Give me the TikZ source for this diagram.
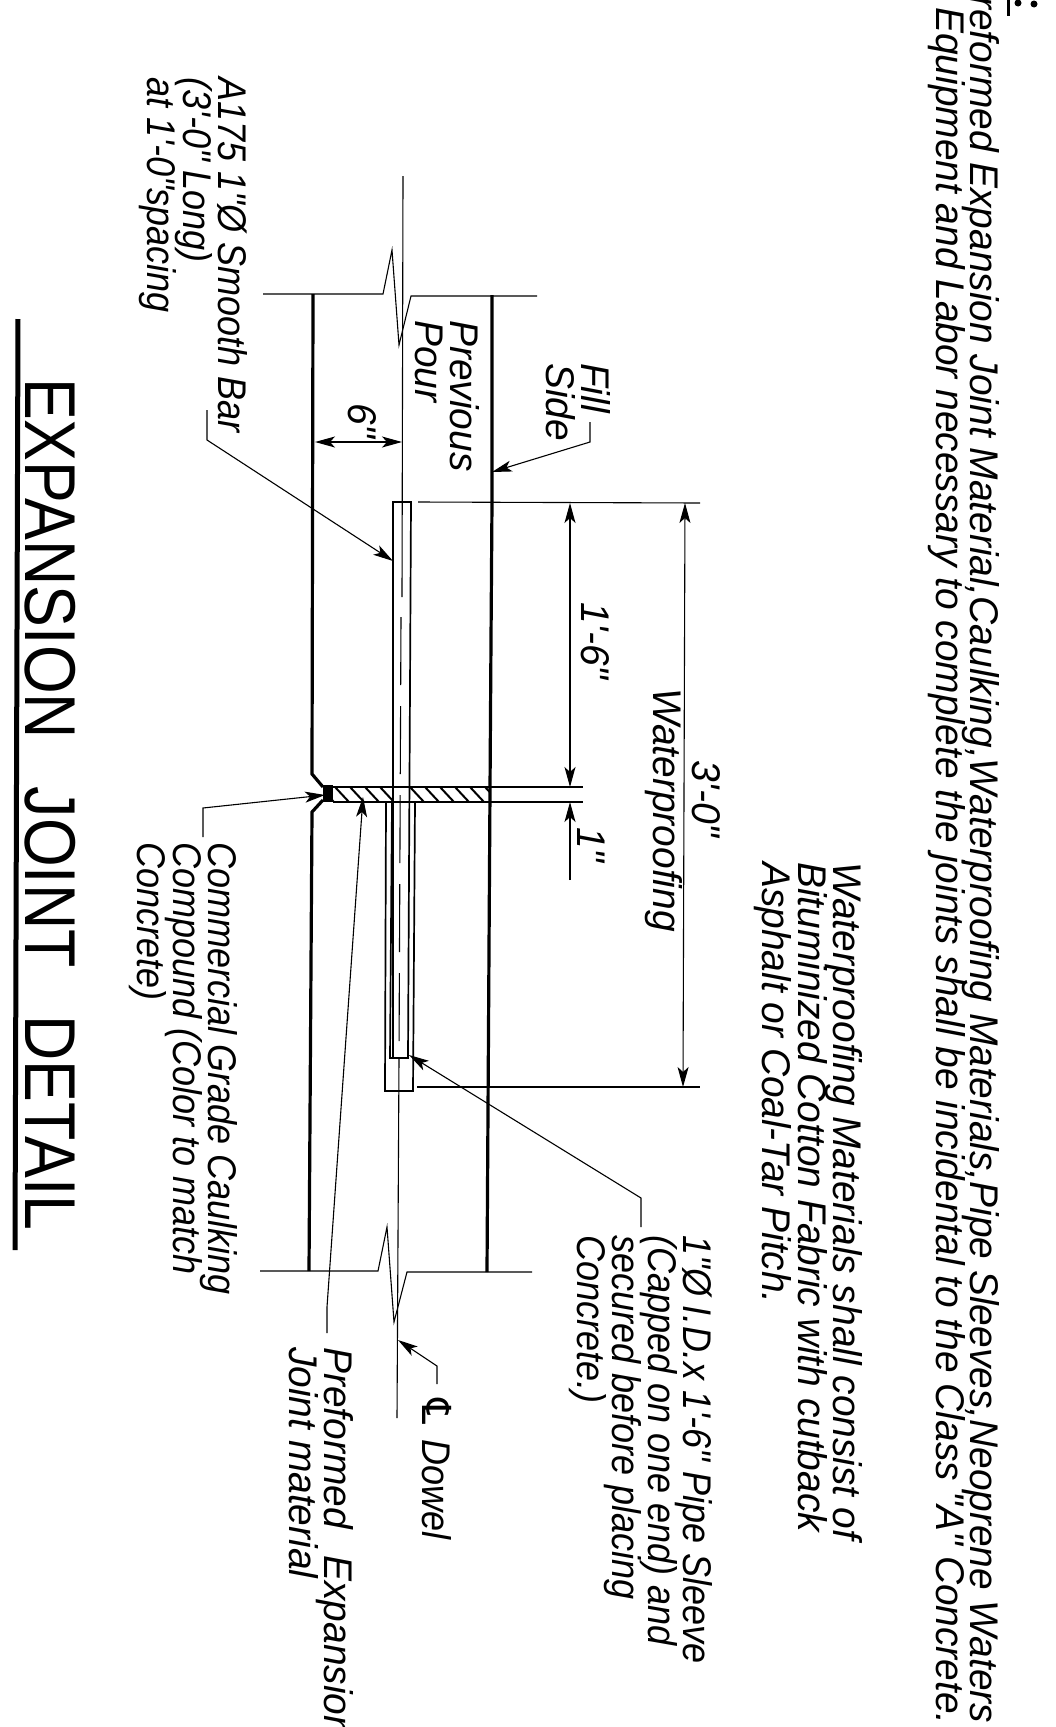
\documentclass[tikz,border=0pt]{standalone}
\usepackage{fontspec}
\usetikzlibrary{arrows.meta}
\newfontfamily\notefont{Liberation Sans}[FakeStretch=0.972,ItalicFont={Liberation Sans Italic}]
\newfontfamily\slimfont{Liberation Sans}[FakeStretch=0.90,ItalicFont={Liberation Sans Italic}]
\newfontfamily\titlefont{Liberation Sans}[FakeStretch=0.87,WordSpace=2.75]
\newfontfamily\clfont{DejaVu Sans}
\tikzset{
  wall/.style={line width=3.2pt},
  thin line/.style={line width=1.1pt},
  part/.style={line width=1.7pt},
  leader/.style={line width=1.1pt,-{Stealth[length=20pt,width=11pt,inset=5pt]}},
  dim/.style={line width=1.1pt,{Stealth[length=20pt,width=11pt,inset=5pt]}-{Stealth[length=20pt,width=11pt,inset=5pt]}},
  hatchline/.style={line width=2pt},
  note/.style={rotate=-90,anchor=north west,inner sep=0pt,align=left,
    font={\fontsize{40pt}{35.5pt}\selectfont\lineskiplimit=-50pt\relax\notefont\itshape}},
  slim note/.style={note,
    font={\fontsize{40pt}{35.5pt}\selectfont\lineskiplimit=-50pt\relax\slimfont\itshape}},
  heading/.style={rotate=-90,anchor=base west,inner sep=0pt,
    font=\fontsize{72pt}{72pt}\selectfont\titlefont}
}
\begin{document}
\begin{tikzpicture}[x=1pt,y=-1pt]
\useasboundingbox (0,0) rectangle (1055,1727);
\draw[wall] (313,294) -- (312,774) -- (323,787);
\draw[wall] (323,800) -- (312,812) -- (309,1271);
\draw[wall] (492,295) -- (492,502) -- (491,640) -- (490,790) -- (489,950) -- (487,1272);
\fill (323,785) rectangle (333,802);
\draw[thin line] (263,294) -- (383,294) -- (392,250) -- (399,345) -- (411,296) -- (537,296);
\draw[thin line] (260,1271) -- (378,1271) -- (387,1227) -- (394,1322) -- (407,1272) -- (532,1272);
\draw[thin line] (403,176) -- (402,597);
\draw[thin line,dash pattern=on 68pt off 21pt] (401,617) -- (399,1058);
\draw[thin line] (399,1058) -- (397,1418);
\begin{scope}
\clip (333,787) rectangle (392,802) (409,787) rectangle (490,802);
\foreach \x in {320,335,...,485}
  \draw[hatchline] (\x,787) -- (\x+14,802);
\end{scope}
\draw[thin line] (333,787) -- (583,787);
\draw[thin line] (333,802) -- (583,802);
\draw[part] (393,1057) -- (393,502) -- (411,502) -- (408,1058) -- (390,1058) -- (392,802);
\draw[part] (386,802) -- (385,1091) -- (413,1091) -- (415,802);
\draw[thin line] (418,502) -- (700,503);
\draw[thin line] (417,1087) -- (700,1087);
\coordinate (sixleft) at (315,442);
\coordinate (sixright) at (402,442);
\coordinate (halfup) at (570,503);
\coordinate (halfdown) at (570,787);
\coordinate (fullup) at (685,503);
\coordinate (fulldown) at (683,1087);
\coordinate (gapup) at (570,802);
\coordinate (gapend) at (570,880);
\draw[dim] (sixleft) -- (sixright);
\draw[dim] (halfup) -- (halfdown);
\draw[dim] (fullup) -- (fulldown);
\draw[leader] (gapend) -- (gapup);
\coordinate (barstart) at (207,410);
\coordinate (barkink) at (207,440);
\coordinate (bartip) at (393,561);
\coordinate (fillstart) at (590,422);
\coordinate (fillkink) at (590,442);
\coordinate (filltip) at (492,472);
\coordinate (sleevestart) at (641,1227);
\coordinate (sleevekink) at (641,1198);
\coordinate (sleevetip) at (409,1055);
\coordinate (dowelstart) at (437,1384);
\coordinate (dowelkink) at (437,1366);
\coordinate (doweltip) at (398,1340);
\coordinate (jointstart) at (327,1333);
\coordinate (jointkink) at (327,1307);
\coordinate (jointtip) at (363,797);
\coordinate (caulkstart) at (203,837);
\coordinate (caulkkink) at (203,808);
\coordinate (caulktip) at (325,795);
\draw[leader] (barstart) -- (barkink) -- (bartip);
\draw[leader] (fillstart) -- (fillkink) -- (filltip);
\draw[leader] (sleevestart) -- (sleevekink) -- (sleevetip);
\draw[leader] (dowelstart) -- (dowelkink) -- (doweltip);
\draw[leader] (jointstart) -- (jointkink) -- (jointtip);
\draw[leader] (caulkstart) -- (caulkkink) -- (caulktip);
\node[note] (general) at (1000,-30) {Preformed Expansion Joint Material,Caulking,Waterproofing Materials,Pipe Sleeves,Neoprene Waters};
\node[note] (labor) at (966,7) {Equipment and Labor necessary to complete the joints shall be incidental to the Class "A" Concrete.};
\node[slim note] (barnote) at (248,77) {A175 1"Ø Smooth Bar\\(3'-0" Long)\\at 1'-0"spacing};
\node[note] (fillnote) at (611,363) {Fill\\Side};
\node[note] (pournote) at (480,320) {Previous\\Pour};
\node[note] (sixnote) at (377,403) {6"};
\node[note] (halfnote) at (610,602) {1'-6"};
\node[note] (gapnote) at (605,827) {1"};
\node[note] (fullnote) at (721,760) {3'-0"};
\node[note] (wpnote) at (683,688) {Waterproofing};
\node[note] (wpmaterial) at (863,862) {Waterproofing Materials shall consist of\\Bituminized Cotton Fabric with cutback\\Asphalt or Coal-Tar Pitch.};
\node[slim note] (sleevenote) at (713,1235) {1"Ø I.D.x 1'-6" Pipe Sleeve\\(Capped on one end) and\\secured before placing\\Concrete.)};
\node[slim note] (dowelnote) at (452,1393) {{\clfont\char"2104}\ Dowel};
\node[note] (jointnote) at (354,1347) {Preformed\hspace{16pt} Expansion\\Joint material};
\node[slim note] (caulknote) at (238,842) {Commercial Grade Caulking\\Compound (Color to match\\Concrete)};
\node[heading] (title) at (25,378) {EXPANSION JOINT DETAIL};
\draw[line width=5pt] (18,319) -- (15,1250);
\fill (1018,3) circle (3.5pt);
\fill (1034,4) circle (3.5pt);
\draw[line width=3pt] (1008,0) -- (1008,16);
\end{tikzpicture}
\end{document}
